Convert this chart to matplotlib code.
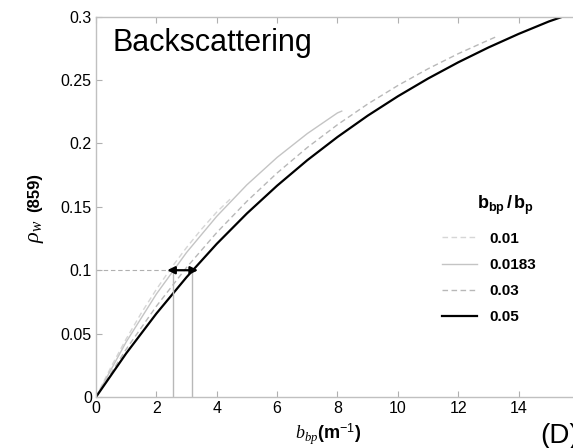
import matplotlib
matplotlib.use('Agg')
import matplotlib.pyplot as plt
from matplotlib.ticker import FormatStrFormatter

plt.rcParams['font.family'] = ['Liberation Sans', 'DejaVu Sans']
plt.rcParams['mathtext.fontset'] = 'custom'
plt.rcParams['mathtext.rm'] = 'Liberation Sans'
plt.rcParams['mathtext.it'] = 'Liberation Serif:italic'
plt.rcParams['mathtext.bf'] = 'Liberation Sans:bold'

# bbp/bp = 0.01 (dashed, lightest)
x_001 = [0, 0.5, 1, 1.5, 2, 2.5, 3, 3.5, 4, 4.44]
y_001 = [0, 0.0238, 0.0458, 0.0662, 0.0849, 0.1021, 0.1179, 0.1325, 0.1459, 0.156]
# bbp/bp = 0.0183 (solid gray)
x_0183 = [0, 1, 2, 3, 4, 5, 6, 7, 8, 8.14]
y_0183 = [0, 0.0434, 0.0812, 0.1140, 0.1425, 0.1674, 0.1890, 0.2078, 0.2241, 0.2255]
# bbp/bp = 0.03 (dashed gray)
x_003 = [0, 1, 2, 3, 4, 5, 6, 7, 8, 9, 10, 11, 12, 13, 13.3]
y_003 = [0, 0.0377, 0.0716, 0.1022, 0.1297, 0.1544, 0.1767, 0.1968, 0.2148, 0.2311,
         0.2457, 0.2589, 0.2708, 0.2815, 0.2846]
# bbp/bp = 0.05 (black)
x_005 = [0, 1, 2, 3, 4, 5, 6, 7, 8, 9, 10, 11, 12, 13, 14, 15, 15.7]
y_005 = [0, 0.0344, 0.0658, 0.0945, 0.1208, 0.1448, 0.1667, 0.1868, 0.2051, 0.2219,
         0.2372, 0.2512, 0.2640, 0.2757, 0.2864, 0.2962, 0.302]

labels = ['0.01', '0.0183', '0.03', '0.05']
x_ticks = [0, 2, 4, 6, 8, 10, 12, 14]
y_ticks = [0, 0.05, 0.1, 0.15, 0.2, 0.25, 0.3]

rho_ref = 0.1
x_left, x_right = 2.56, 3.18

W, H = 573, 448
fig = plt.figure(figsize=(W / 100, H / 100), dpi=100)
ax = fig.add_axes([0.1675, 0.1138, 0.843, 0.849])

ax.plot(x_001, y_001, color='#d6d6d6', lw=1, ls=(0, (4, 2.5)), label=labels[0])
ax.plot(x_0183, y_0183, color='#c4c4c4', lw=1, label=labels[1])
ax.plot(x_003, y_003, color='#b8b8b8', lw=1, ls=(0, (4, 2.5)), label=labels[2])
ax.plot(x_005, y_005, color='black', lw=1.6, label=labels[3])

# reference lines
ax.plot([0, 2.42], [rho_ref, rho_ref], color='#b0b0b0', lw=0.8, ls=(0, (4, 2.5)))
ax.plot([x_left, x_left], [0, rho_ref], color='#b8b8b8', lw=1)
ax.plot([x_right, x_right], [0, rho_ref], color='#b8b8b8', lw=1)
ax.annotate('', xy=(2.36, rho_ref), xytext=(3.38, rho_ref),
            arrowprops=dict(arrowstyle='<|-|>', color='black', lw=1.6,
                            mutation_scale=11, shrinkA=0, shrinkB=0))

ax.set_xlim(0, 16)
ax.set_ylim(0, 0.3)
ax.set_xticks(x_ticks)
ax.set_yticks(y_ticks)
ax.yaxis.set_major_formatter(FormatStrFormatter('%g'))
ax.tick_params(direction='in', length=4, color='#b0b0b0', top=True, right=True,
               labelsize=11.5, pad=3)
for s in ax.spines.values():
    s.set_color('#c0c0c0')
    s.set_linewidth(1)

ax.set_xlabel(r'$b_{bp}$(m$^{-1}$)', fontsize=13, fontweight='bold')
ax.xaxis.set_label_coords(0.48, -0.064, transform=ax.transAxes)
ax.xaxis.label.set_va('top')

# y label in two pieces: large rho_w and (859)
fig.text(35 / W, 1 - 231 / H, r'$\rho_w$', fontsize=16, rotation=90,
         ha='center', va='center')
fig.text(35 / W, 1 - 193 / H, '(859)', fontsize=12, rotation=90,
         ha='center', va='center', fontweight='bold')

ax.text(0.035, 0.97, 'Backscattering', transform=ax.transAxes, fontsize=22,
        va='top', ha='left')

leg = ax.legend(loc='upper left', bbox_to_anchor=(428 / W, 1 - 218 / H),
                bbox_transform=fig.transFigure, frameon=False, fontsize=11,
                handlelength=2.3, handletextpad=0.8, labelspacing=0.8)
for t in leg.get_texts():
    t.set_fontweight('bold')
fig.text(534 / W, 1 - 205 / H, r'$\mathbf{b_{bp}\,/\,b_p}$', fontsize=13,
         ha='right', va='center')

# panel letter, cut by the right edge as in the source figure
fig.text(540 / W, 1 - 443 / H, '(D)', fontsize=20, ha='left', va='baseline')

fig.savefig('out.png', dpi=100)
